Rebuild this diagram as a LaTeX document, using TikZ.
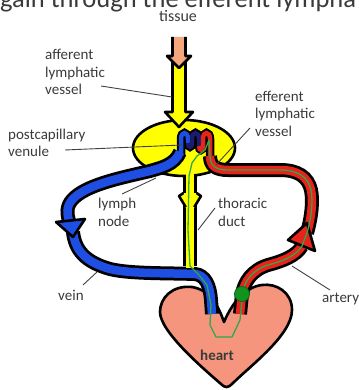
\documentclass[tikz,border=0pt]{standalone}
\usepackage{fontspec}
\setmainfont{Carlito}
\definecolor{lymphyellow}{HTML}{FFFF00}
\definecolor{tissueorange}{HTML}{F4A67C}
\definecolor{heartsalmon}{HTML}{F5957E}
\definecolor{veinblue}{HTML}{1F4FE2}
\definecolor{arteryred}{HTML}{E8231B}
\definecolor{loopnavy}{HTML}{1C1C6E}
\definecolor{routegreen}{HTML}{2DA84A}
\definecolor{dotgreen}{HTML}{12921E}
\definecolor{labelgray}{HTML}{3A3A3A}
\definecolor{leadergray}{HTML}{404040}
\begin{document}
\begin{tikzpicture}[x=1pt,y=-1pt,
  % multi-line labels are placed by the baseline of their last line
  lbl/.style={font=\fontsize{15}{17.5}\selectfont, text=labelgray, align=left, anchor=base west, inner sep=0pt},
  leader/.style={draw=leadergray, line width=0.9pt},
  outline/.style={draw=black, line width=2.6pt, line join=round},
  tubeout/.style={draw=black, line width=14pt},
  tubein/.style={line width=8.5pt},
  loopout/.style={draw=black, line width=8.5pt},
  loopin/.style={line width=4.5pt},
  route/.style={draw=routegreen, line width=1.3pt, line join=round},
]
\useasboundingbox (0,0) rectangle (358,390);
\clip (0,0) rectangle (358,390);

% heading line running off the top edge
\node[font=\fontsize{26.5}{30}\selectfont, text=labelgray, anchor=base west, inner sep=0pt]
  (heading) at (0,7.5) {gain through the efferent lympha};
\node[font=\fontsize{16}{18}\selectfont, text=labelgray, anchor=base, inner sep=0pt]
  (tissue) at (178,22) {tissue};

% heart
\path[outline, fill=heartsalmon] (224,322)
  .. controls (218,305) and (210,290) .. (192,287)
  .. controls (172,285) and (160,298) .. (160,312)
  .. controls (160,332) and (205,370) .. (221,384)
  .. controls (225,388) and (228,388) .. (232,384)
  .. controls (250,366) and (292,335) .. (292,310)
  .. controls (292,292) and (276,283) .. (262,285)
  .. controls (245,287) and (232,303) .. (224,322) -- cycle;

% lymph node
\path[outline, fill=lymphyellow] (184,148) ellipse [x radius=51, y radius=28];

% tube outlines
\draw[tubeout] (190,176) -- (190,266);
\draw[tubeout] (180,152) .. controls (175,165) and (160,168) .. (150,171)
  .. controls (120,178) and (85,185) .. (72,200)
  .. controls (66,207) and (67,214) .. (69,221);
\draw[tubeout] (73,232) .. controls (75,250) and (85,262) .. (110,269)
  .. controls (130,274) and (170,273) .. (195,274)
  .. controls (205,275) and (210,285) .. (211,300) -- (212,314);
\draw[tubeout] (240,314) -- (242,294) .. controls (244,282) and (252,270) .. (268,265)
  .. controls (283,261) and (296,256) .. (302,246);
\draw[tubeout] (307,233) .. controls (312,215) and (313,200) .. (311,190)
  .. controls (308,177) and (298,170) .. (280,170) -- (228,170)
  .. controls (216,170) and (210,166) .. (210,156);

% capillary loops inside the node
\draw[loopout] (181,156) -- (181,139) .. controls (181,131) and (188,131) .. (188,139) -- (188,143)
  .. controls (188,148) and (192,148) .. (192,143) -- (192,139)
  .. controls (192,131) and (199,131) .. (199,139) -- (199,146)
  .. controls (199,151) and (203,151) .. (203,146) -- (203,139)
  .. controls (203,131) and (210,131) .. (210,139) -- (210,158);

% tube interiors
\draw[tubein, veinblue] (180,152) .. controls (175,165) and (160,168) .. (150,171)
  .. controls (120,178) and (85,185) .. (72,200)
  .. controls (66,207) and (67,214) .. (69,221);
\draw[tubein, veinblue] (73,232) .. controls (75,250) and (85,262) .. (110,269)
  .. controls (130,274) and (170,273) .. (195,274)
  .. controls (205,275) and (210,285) .. (211,300) -- (212,314);
\draw[tubein, lymphyellow] (190,166) -- (190,268);
\draw[tubein, arteryred] (240,314) -- (242,294) .. controls (244,282) and (252,270) .. (268,265)
  .. controls (283,261) and (296,256) .. (302,246);
\draw[tubein, arteryred] (307,233) .. controls (312,215) and (313,200) .. (311,190)
  .. controls (308,177) and (298,170) .. (280,170) -- (228,170)
  .. controls (216,170) and (210,166) .. (210,156);
\draw[loopin, veinblue] (181,156) -- (181,139) .. controls (181,131) and (188,131) .. (188,139) -- (188,143);
\draw[loopin, loopnavy] (188,143) .. controls (188,148) and (192,148) .. (192,143) -- (192,139)
  .. controls (192,131) and (199,131) .. (199,139) -- (199,146);
\draw[loopin, arteryred] (199,146) .. controls (199,151) and (203,151) .. (203,146) -- (203,139)
  .. controls (203,131) and (210,131) .. (210,139) -- (210,158);

% arrowheads on the vessels
\path[outline, fill=veinblue] (56,222) -- (73,237) -- (85,219) -- cycle;
\path[outline, fill=arteryred] (288,240) -- (307,223) -- (315,251) -- cycle;
\fill[lymphyellow] (183.5,193) -- (179,196) -- (186,208) -- (194,208) -- (201,196) -- (196.5,193) -- cycle;
\draw[outline] (183.5,193) -- (179,196) -- (185.7,207);
\draw[outline] (196.5,193) -- (201,196) -- (194.3,207);

% lymphocyte route
\draw[route] (242,294) .. controls (244,282) and (252,270) .. (268,265)
  .. controls (283,261) and (296,256) .. (302,246) -- (307,233)
  .. controls (312,215) and (313,200) .. (311,190)
  .. controls (308,177) and (298,170) .. (280,170) -- (228,170)
  .. controls (216,170) and (210,166) .. (210,156) -- (209,140)
  -- (205,150) -- (197,156) -- (192,163) -- (189,176) -- (188,230) -- (190,266)
  -- (199,275) -- (207,285) -- (211,305) -- (210,325) -- (216,337) -- (232,337)
  -- (240,320) -- (242,300);
\path[fill=dotgreen, draw=dotgreen!70!black, line width=0.8pt] (242,294) circle [radius=7.5];

% afferent vessel arrows
\path[outline, fill=lymphyellow] (172.5,60) -- (172.5,112) -- (165,112) -- (179,127)
  -- (193,112) -- (185.5,112) -- (185.5,60) -- cycle;
\fill[tissueorange] (172.5,37) -- (172.5,56) -- (167,56) -- (179,68) -- (191,56) -- (185.5,56) -- (185.5,37) -- cycle;
\draw[outline] (172.5,37) -- (172.5,56) -- (167,56) -- (179,68) -- (191,56) -- (185.5,56) -- (185.5,37);

% labels and leader lines
\node[lbl] (lblaff) at (45,95) {afferent\\lymphatic\\vessel};
\coordinate (affA) at (101,86);
\coordinate (affB) at (172,97);
\draw[leader] (affA) -- (affB);

\node[lbl] (lbleff) at (255,136) {efferent\\lymphatic\\vessel};
\coordinate (effA) at (250,128);
\coordinate (effB) at (216,165);
\draw[leader] (effA) -- (effB);

\node[lbl] (lblven) at (8,157) {postcapillary\\venule};
\coordinate (venA) at (65,150);
\coordinate (venB) at (182,145);
\draw[leader] (venA) -- (venB);

\node[lbl] (lblnode) at (98,226) {lymph\\node};
\coordinate (nodeA) at (122,194);
\coordinate (nodeB) at (156,178);
\draw[leader] (nodeA) -- (nodeB);

\node[lbl] (lblduct) at (218,226) {thoracic\\duct};
\coordinate (ductA) at (215,208);
\coordinate (ductB) at (198,230);
\draw[leader] (ductA) -- (ductB);

\node[lbl] (lblvein) at (58,300) {vein};
\coordinate (veinA) at (83,285);
\coordinate (veinB) at (97,272);
\draw[leader] (veinA) -- (veinB);

\node[lbl] (lblart) at (322,302) {artery};
\coordinate (artA) at (330,290);
\coordinate (artB) at (292,266);
\draw[leader] (artA) -- (artB);

\node[font=\fontsize{15}{18}\selectfont\bfseries, text=labelgray, anchor=base, inner sep=0pt]
  (lblheart) at (217,360) {heart};
\end{tikzpicture}
\end{document}
